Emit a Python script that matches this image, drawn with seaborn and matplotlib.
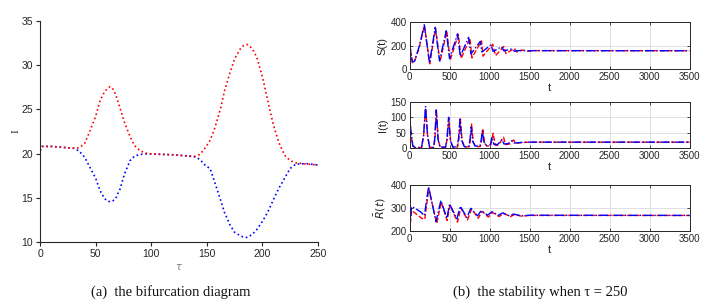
import numpy as np
import pandas as pd
import matplotlib
matplotlib.use('Agg')
import matplotlib.pyplot as plt
import seaborn as sns

# ---------------------------------------------------------------
# Datos
# ---------------------------------------------------------------

# (a) diagrama de bifurcacion: maximos (rojo) y minimos (azul) de I
tau = [0, 2, 5, 10, 15, 20, 25, 30, 35, 40, 45, 50, 54, 58, 61, 63, 65, 68,
       72, 76, 81, 85, 90, 95, 100, 110, 120, 130, 140, 144, 149, 153, 157,
       162, 166, 171, 175, 180, 183, 186, 189, 192, 195, 200, 205, 210, 215,
       220, 225, 230, 240, 250]
i_max = [20.3, 20.8, 20.8, 20.8, 20.75, 20.7, 20.65, 20.6, 20.65, 21.1, 22.6,
         24.2, 26.0, 27.0, 27.4, 27.55, 27.4, 26.7, 25.1, 23.5, 21.9, 20.9,
         20.3, 20.05, 19.95, 19.9, 19.85, 19.75, 19.7, 19.9, 20.7, 21.5, 22.8,
         24.9, 27.1, 29.2, 30.7, 31.8, 32.2, 32.35, 32.1, 31.6, 30.9, 28.7,
         25.9, 23.2, 21.2, 19.8, 19.2, 18.95, 18.8, 18.7]
i_min = [20.3, 20.8, 20.8, 20.8, 20.75, 20.7, 20.65, 20.6, 20.3, 19.6, 18.4,
         17.2, 15.8, 14.9, 14.6, 14.55, 14.6, 14.9, 16.0, 17.7, 19.2, 19.7,
         19.9, 19.95, 19.95, 19.9, 19.85, 19.75, 19.6, 19.3, 18.6, 18.3, 16.8,
         14.9, 13.3, 11.9, 11.1, 10.7, 10.55, 10.5, 10.7, 11.0, 11.4, 12.3,
         13.4, 14.8, 16.1, 17.2, 18.3, 18.8, 18.85, 18.7]

# (b) series temporales cuando tau = 250
t_s_blue = [0, 35, 60, 120, 184, 250, 321, 375, 459, 500, 600, 634, 738, 767,
            884, 905, 1017, 1045, 1150, 1180, 1280, 1310, 1400, 1450, 1550, 3500]
s_blue = [225, 62, 65, 190, 377, 51, 355, 71, 326, 88, 300, 108, 270, 128,
          236, 145, 207, 150, 190, 155, 172, 152, 160, 155, 157, 156]
t_s_red = [0, 35, 60, 120, 186, 252, 325, 380, 466, 508, 610, 645, 755, 780,
           900, 918, 1040, 1075, 1180, 1205, 1310, 1340, 1420, 1480, 1560, 3500]
s_red = [215, 55, 60, 180, 370, 45, 348, 62, 320, 75, 295, 90, 262, 95,
         240, 110, 212, 115, 192, 132, 176, 146, 162, 152, 157, 156]

t_i_blue = [0, 15, 40, 70, 150, 175, 200, 225, 250, 300, 315, 334, 355, 380,
            450, 468, 488, 510, 540, 595, 612, 630, 652, 685, 740, 755, 770,
            790, 820, 880, 895, 910, 930, 960, 1010, 1030, 1055, 1100, 1155,
            1180, 1230, 1280, 1310, 1400, 1500, 3500]
i_blue = [120, 60, 8, 1, 2, 40, 135, 40, 3, 2, 30, 124, 30, 3,
          3, 30, 100, 25, 3, 4, 30, 93, 25, 4, 5, 25, 68,
          22, 6, 7, 25, 55, 20, 8, 10, 36, 12, 11, 28,
          13, 14, 24, 16, 18, 19, 19]
t_i_red = [0, 15, 40, 70, 150, 175, 201, 226, 252, 300, 317, 336, 358, 384,
           450, 470, 491, 514, 545, 600, 616, 635, 658, 690, 745, 760, 776,
           797, 828, 885, 900, 916, 938, 968, 1015, 1045, 1072, 1110, 1175,
           1200, 1250, 1300, 1330, 1410, 1500, 3500]
i_red = [105, 50, 6, 1, 2, 38, 130, 38, 2, 2, 28, 122, 28, 2,
         2, 28, 98, 22, 2, 3, 28, 95, 22, 3, 4, 25, 78,
         18, 4, 5, 25, 63, 16, 6, 8, 48, 9, 9, 35,
         11, 13, 26, 15, 18, 19, 19]

t_r_blue = [0, 25, 60, 140, 185, 238, 330, 392, 467, 500, 592, 634, 717, 767,
            850, 896, 975, 1030, 1110, 1165, 1250, 1300, 1400, 1500, 3500]
r_blue = [200, 305, 300, 282, 266, 392, 240, 332, 254, 317, 252, 307, 258, 298,
          265, 288, 268, 283, 268, 278, 265, 273, 265, 268, 267]
t_r_red = [0, 25, 60, 150, 190, 240, 340, 395, 470, 505, 600, 640, 725, 775,
           860, 905, 985, 1040, 1120, 1175, 1260, 1310, 1400, 1500, 3500]
r_red = [200, 288, 280, 255, 250, 382, 232, 325, 245, 312, 238, 300, 248, 295,
         255, 285, 260, 280, 262, 276, 262, 270, 264, 267, 267]

# ---------------------------------------------------------------
# Figura
# ---------------------------------------------------------------
sns.set_style('ticks')
plt.rcParams['font.family'] = ['Liberation Sans', 'DejaVu Sans']

fig = plt.figure(figsize=(7.16, 3.07), dpi=100)
ink = '#262626'

# (a) bifurcacion
ax = fig.add_axes([0.056, 0.212, 0.388, 0.720])
df_bif = pd.DataFrame({'tau': tau, 'max': i_max, 'min': i_min})
sns.lineplot(data=df_bif, x='tau', y='min', ax=ax, color='#0000ff',
             linestyle=':', linewidth=1.2, sort=False)
sns.lineplot(data=df_bif, x='tau', y='max', ax=ax, color='#ff0000',
             linestyle=':', linewidth=1.2, sort=False)
ax.set_xlim(0, 250)
ax.set_ylim(10, 35)
ax.set_xticks([0, 50, 100, 150, 200, 250])
ax.set_yticks([10, 15, 20, 25, 30, 35])
ax.tick_params(direction='out', length=3, width=0.8, labelsize=7.5,
               colors=ink, pad=2)
for side in ['top', 'right']:
    ax.spines[side].set_visible(False)
for side in ['left', 'bottom']:
    ax.spines[side].set_color(ink)
    ax.spines[side].set_linewidth(0.8)
ax.set_xlabel(r'$\tau$', fontsize=7, color='#777777', labelpad=2)
ax.set_ylabel('I', fontsize=8, color=ink, family=['Liberation Serif'],
              labelpad=1)

# (b) series temporales
series = [
    ([0.572, 0.775, 0.391, 0.153], t_s_blue, s_blue, t_s_red, s_red,
     (0, 400), [0, 200, 400], 'S(t)'),
    ([0.572, 0.518, 0.391, 0.150], t_i_blue, i_blue, t_i_red, i_red,
     (0, 150), [0, 50, 100, 150], 'I(t)'),
    ([0.572, 0.248, 0.391, 0.150], t_r_blue, r_blue, t_r_red, r_red,
     (200, 400), [200, 300, 400], r'$\bar{R}(t)$'),
]
for pos, tb, yb, tr, yr, ylim, yticks, ylab in series:
    a = fig.add_axes(pos)
    sns.lineplot(x=tr, y=yr, ax=a, color='#ff0000', linestyle='--',
                 linewidth=1.0, sort=False)
    sns.lineplot(x=tb, y=yb, ax=a, color='#0000ff', linestyle='-.',
                 linewidth=1.0, sort=False)
    a.set_xlim(0, 3500)
    a.set_ylim(*ylim)
    a.set_xticks(np.arange(0, 3501, 500))
    a.set_yticks(yticks)
    a.grid(True, color='#e0e0e0', linewidth=0.7)
    a.set_axisbelow(True)
    a.tick_params(direction='in', length=2.5, width=0.6, labelsize=7,
                  colors=ink, pad=2, top=True, right=True)
    for side in a.spines.values():
        side.set_color(ink)
        side.set_linewidth(0.7)
    a.set_xlabel('t', fontsize=8, color=ink, labelpad=1)
    a.set_ylabel(ylab, fontsize=8, color=ink, labelpad=2)

# pies de figura
fig.text(0.239, 0.049, '(a)  the bifurcation diagram', ha='center',
         va='center', fontsize=10.5, family=['Liberation Serif'], color='#111111')
fig.text(0.754, 0.049, '(b)  the stability when τ = 250', ha='center',
         va='center', fontsize=10.5, family=['Liberation Serif'], color='#111111')

fig.savefig('out.png', dpi=100)
